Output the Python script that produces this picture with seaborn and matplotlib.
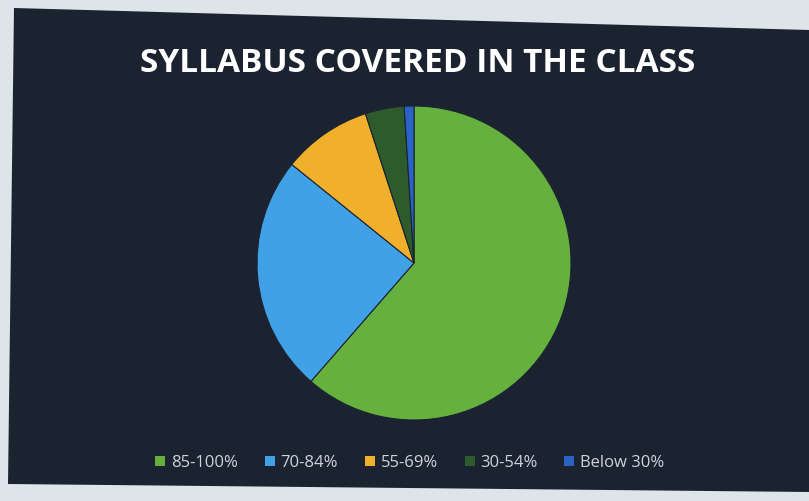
import matplotlib
matplotlib.use("Agg")
import matplotlib.pyplot as plt
import seaborn as sns
from matplotlib.patches import Polygon

categories = ["85-100%", "70-84%", "55-69%", "30-54%", "Below 30%"]
values = [61.4, 24.4, 9.2, 4.0, 1.0]
colors = ["#66b13e", "#41a1e6", "#f1b02c", "#2e5b2c", "#2a63c4"]
title = "SYLLABUS COVERED IN THE CLASS"

sns.set_theme(style="white")
plt.rcParams['font.family'] = ['Open Sans', 'DejaVu Sans']

W, H = 809, 501
fig = plt.figure(figsize=(W / 100, H / 100), dpi=100)
fig.patch.set_facecolor("#dde4ea")

# dark projected screen area
poly = Polygon([(14 / W, 1 - 8 / H), (809 / W, 1 - 30 / H), (809 / W, 1 - 492 / H), (8 / W, 1 - 484 / H)],
               closed=True, transform=fig.transFigure, facecolor="#1b2330", edgecolor="none", zorder=-5)
fig.patches.append(poly)

cx, cy, r = 414, 263, 157
ax = fig.add_axes([(cx - r) / W, (H - cy - r) / H, 2 * r / W, 2 * r / H])
ax.set_zorder(2)
ax.set_facecolor("none")
wedges, _ = ax.pie(values, colors=colors, startangle=90, counterclock=False,
                   wedgeprops=dict(linewidth=0.8, edgecolor="#1b2330"))
ax.set_xlim(-1.0, 1.0)
ax.set_ylim(-1.0, 1.0)
ax.set_aspect("equal")
ax.axis("off")

fig.text(418 / W, 1 - 63 / H, title, ha="center", va="center", color="white",
         fontsize=24, fontweight="bold", zorder=3)

leg = fig.legend(wedges, categories, loc="center", bbox_to_anchor=(410 / W, 1 - 463 / H),
                 ncol=5, frameon=False, fontsize=12, handlelength=0.6, handleheight=0.6,
                 handletextpad=0.35, columnspacing=1.6, labelcolor="#cfd4db")
leg.set_zorder(3)
for h in leg.legend_handles:
    h.set_linewidth(0)

fig.savefig("out.png", dpi=100, facecolor=fig.get_facecolor())
